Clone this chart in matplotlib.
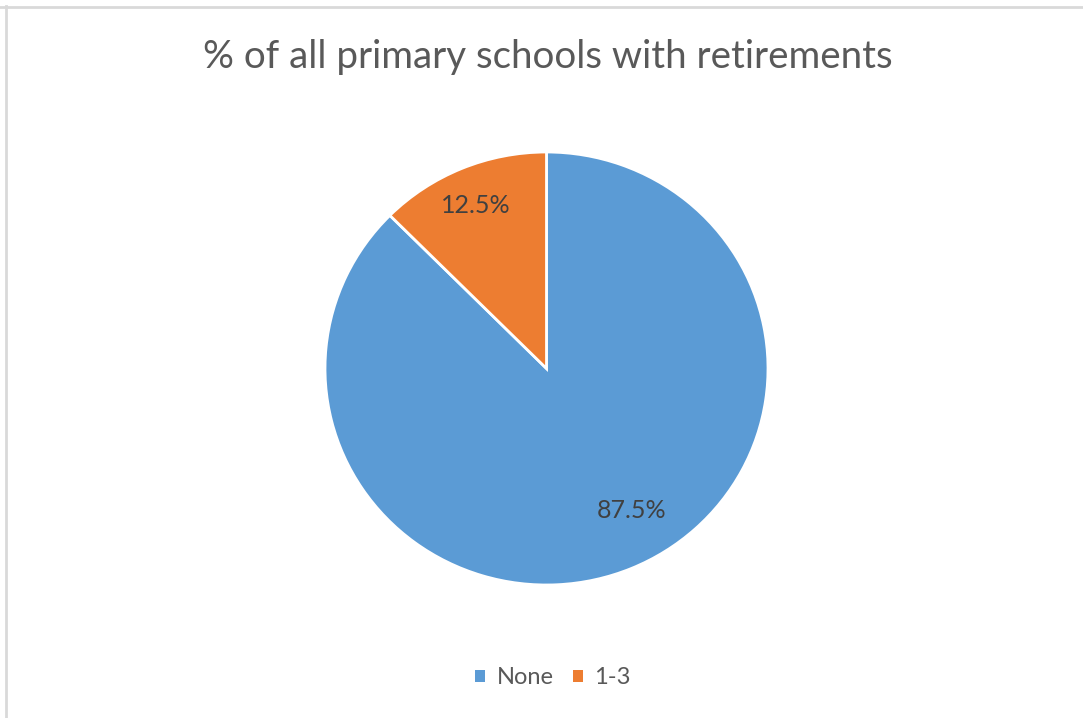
import matplotlib.pyplot as plt
import numpy as np
from matplotlib.patches import Patch

# values
labels = ["None", "1-3"]
shares = [87.5, 12.5]
colors = ["#5B9BD5", "#ED7D31"]
title = "% of all primary schools with retirements"

W, H = 1083, 718
fig = plt.figure(figsize=(W / 100, H / 100), dpi=100)
fig.patch.set_facecolor("white")

# light frame lines (only top and left show in the crop)
fig.add_artist(plt.Line2D([0, 1], [1 - 7 / H, 1 - 7 / H], color="#d9d9d9", lw=2))
fig.add_artist(plt.Line2D([6 / W, 6 / W], [0, 1 - 6 / H], color="#d9d9d9", lw=2))

fig.text(548 / W, 1 - 68 / H, title, ha="center", va="baseline",
         fontsize=27.7, color="#595959", family="Lato")

# pie area in pixels: x 325..768, y 152..585
ax = fig.add_axes([325 / W, 1 - 585 / H, 443 / W, 433 / H])
wedges, texts, autotexts = ax.pie(
    shares, colors=colors, startangle=90, counterclock=False,
    autopct="%.1f%%", pctdistance=0.8,
    wedgeprops=dict(edgecolor="white", linewidth=2),
    textprops=dict(fontsize=18, color="#404040", family="Lato"))
ax.set_aspect("auto")
ax.set_xlim(-1, 1)
ax.set_ylim(-1, 1)
ax.axis("off")

# Excel's best-fit label spots
label_pos = [(0.386, -0.654), (-0.318, 0.755)]
for t, p in zip(autotexts, label_pos):
    t.set_position(p)
    t.set_ha("center")
    t.set_va("center")

handles = [Patch(facecolor=c, edgecolor="none") for c in colors]
fig.legend(handles, labels, loc="center", bbox_to_anchor=(553 / W, 1 - 678 / H),
           ncol=2, frameon=False, handlelength=0.42, handleheight=0.42,
           handletextpad=0.5, columnspacing=0.8,
           prop=dict(family="Lato", size=17), labelcolor="#595959")

fig.savefig("out.png", dpi=100, facecolor="white")
